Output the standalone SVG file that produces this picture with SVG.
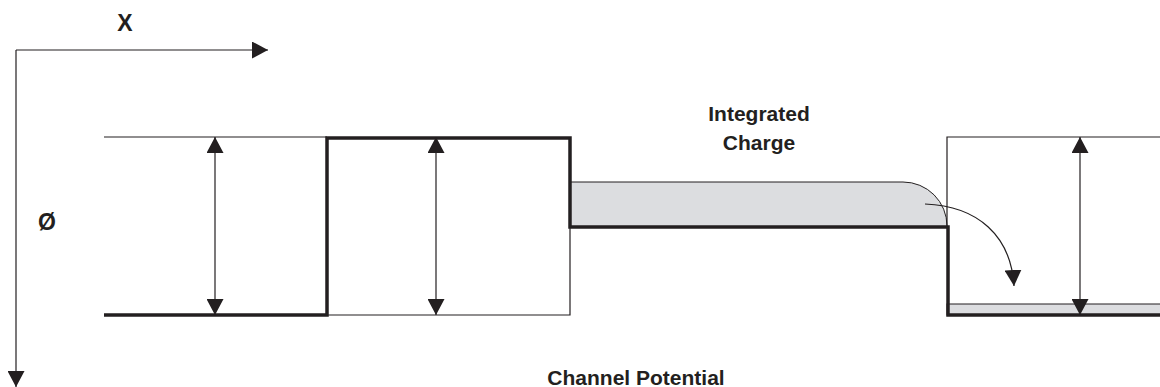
<svg xmlns="http://www.w3.org/2000/svg" width="1160" height="387" viewBox="0 0 1160 387">
<style>
.thin{fill:none;stroke:#231f20;stroke-width:1.2}
.thick{fill:none;stroke:#231f20;stroke-width:3.5;stroke-linejoin:miter}
.charge{fill:#dcdde0;stroke:#231f20;stroke-width:1}
.lbl{font-family:"Liberation Sans",Arial,sans-serif;font-weight:bold;font-size:21px;fill:#231f20;text-anchor:middle}
.ax{font-size:23px}
</style>
<defs>
<marker id="ah" markerWidth="16" markerHeight="17" refX="16" refY="8.5" orient="auto-start-reverse" markerUnits="userSpaceOnUse">
<path d="M0,0 L16,8.5 L0,17 Z" fill="#231f20"/>
</marker>
</defs>
<rect width="1160" height="387" fill="#fff"/>
<g id="axes">
<line class="thin" x1="16" y1="50" x2="268" y2="50" marker-end="url(#ah)"/>
<line class="thin" x1="16" y1="50" x2="16" y2="387" marker-end="url(#ah)"/>
<text class="lbl ax" x="125" y="31">X</text>
<text class="lbl ax" x="47" y="230">Ø</text>
</g>
<g id="charge-regions">
<path class="charge" d="M570,182 H903 A44,44 0 0 1 947,226 V227 H570 Z"/>
<rect class="charge" x="947" y="304" width="215" height="11"/>
</g>
<g id="wells">
<polyline class="thin" points="104,137 327,137"/>
<polyline class="thin" points="327,315 570,315 570,227"/>
<polyline class="thin" points="947,227 947,137 1162,137"/>
<polyline class="thick" points="104,315 327,315 327,138 570,138 570,227 948,227 948,315 1162,315"/>
</g>
<g id="connectors">
<line class="thin" x1="215" y1="137" x2="215" y2="315" marker-start="url(#ah)" marker-end="url(#ah)"/>
<line class="thin" x1="436" y1="137" x2="436" y2="315" marker-start="url(#ah)" marker-end="url(#ah)"/>
<line class="thin" x1="1080" y1="137" x2="1080" y2="315" marker-start="url(#ah)" marker-end="url(#ah)"/>
<path class="thin" d="M925,204 C978,206 1011,236 1014,286" marker-end="url(#ah)"/>
</g>
<g id="labels">
<text class="lbl" x="759" y="121">Integrated</text>
<text class="lbl" x="759" y="150">Charge</text>
<text class="lbl" x="636" y="385">Channel Potential</text>
</g>
</svg>
